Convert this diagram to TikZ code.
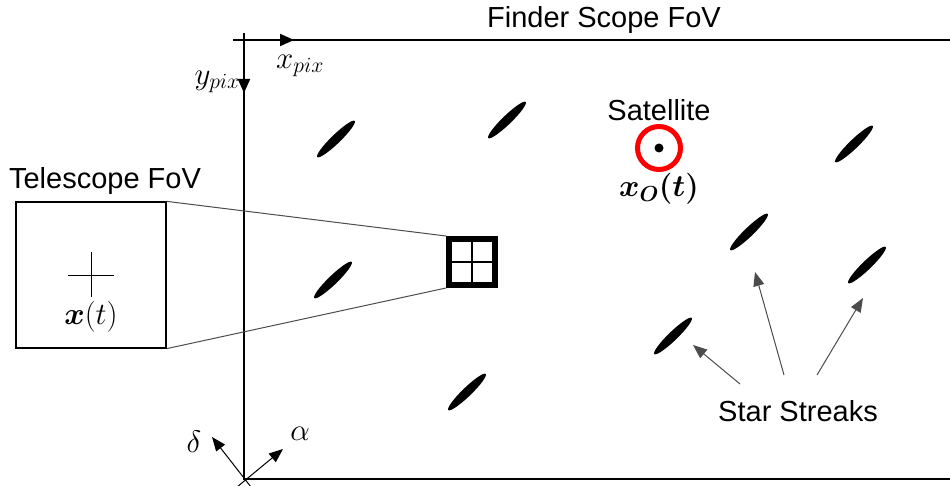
\documentclass[tikz,border=0pt]{standalone}
\usepackage{fix-cm}
\usepackage{amsmath,amssymb}
\usepackage{fontspec}
\setmainfont{Liberation Sans}
\usetikzlibrary{positioning,shapes.geometric,arrows.meta}
\tikzset{
frame/.style={line width=2pt},
fovbox/.style={draw,line width=1.3pt,minimum width=150pt,minimum height=146pt,inner sep=0pt},
zoombox/.style={draw,line width=6pt,minimum size=46pt,inner sep=0pt},
streak/.style={ellipse,fill=black,minimum width=52pt,minimum height=9pt,inner sep=0pt,rotate=44},
satring/.style={circle,draw=red,line width=5pt,minimum size=43pt,inner sep=0pt},
satdot/.style={circle,fill=black,minimum size=9pt,inner sep=0pt},
hair/.style={line width=0.8pt},
thinline/.style={black!70,line width=1pt},
pointer/.style={-{Triangle[length=14pt,width=11pt]},black!70,line width=1pt},
axisarrow/.style={-{Triangle[length=14pt,width=12pt]},line width=2pt},
skyarrow/.style={-{Triangle[length=14pt,width=11pt]},line width=1pt},
txt/.style={font=\fontsize{29}{34}\selectfont,inner sep=1pt},
mathtxt/.style={font=\fontsize{31}{36}\selectfont,inner sep=1pt}
}
\begin{document}
\begin{tikzpicture}[x=1pt,y=-1pt]
\useasboundingbox (0,0) rectangle (950,486);
% finder scope frame
\coordinate (org) at (244,479);
\draw[frame] (233,40) -- (950,40);
\draw[frame] (244,33) -- (org) -- (950,479);
\draw[axisarrow] (233,40) -- (294,40);
\draw[axisarrow] (244,33) -- (244,93);
\node[txt] (title) at (604,20) {Finder Scope FoV};
\node[mathtxt] (xpix) at (300,66) {$x_{pix}$};
\node[mathtxt,anchor=east] (ypix) at (241,82) {$y_{pix}$};
% sky directions
\coordinate (d0) at (251,487);
\coordinate (dtip) at (212,437);
\coordinate (a0) at (237,487);
\coordinate (atip) at (283,449);
\draw[skyarrow] (d0) -- (dtip);
\draw[skyarrow] (a0) -- (atip);
\node[mathtxt] (delta) at (194,442) {$\delta$};
\node[mathtxt] (alpha) at (300,434) {$\alpha$};
% telescope fov
\node[fovbox] (tele) at (91,275) {};
\node[txt] (telelab) at (105,181) {Telescope FoV};
\draw[hair] ([xshift=-23pt]tele.center) -- ([xshift=23pt]tele.center);
\draw[hair] ([yshift=23pt]tele.center) -- ([yshift=-22pt]tele.center);
\node[mathtxt,below=25pt of tele.center] (xt) {$\boldsymbol{x}(t)$};
\node[zoombox] (zoom) at (472,262) {};
\draw[line width=1.5pt] (zoom.west) -- (zoom.east);
\draw[line width=1.5pt] (zoom.north) -- (zoom.south);
\draw[thinline] (tele.north east) -- (zoom.north west);
\draw[thinline] (tele.south east) -- (zoom.south west);
% satellite
\node[satring] (sat) at (659,148) {};
\node[satdot] (satc) at (sat.center) {};
\node[txt,above=2pt of sat] (satlab) {Satellite};
\node[mathtxt,below=0pt of sat] (xo) {$\boldsymbol{x_O(t)}$};
% star streaks
\foreach \p [count=\i] in {(336,139),(507,120),(333,280),(467,392),(749,232),(867,265),(673,336),(854,144)}
  \node[streak] (s\i) at \p {};
\node[txt] (streaks) at (798,411) {Star Streaks};
\coordinate (ta) at (740,384);
\coordinate (tb) at (784,375);
\coordinate (tc) at (817,375);
\coordinate (ha) at (693,345);
\coordinate (hb) at (755,272);
\coordinate (hc) at (863,298);
\draw[pointer] (ta) -- (ha);
\draw[pointer] (tb) -- (hb);
\draw[pointer] (tc) -- (hc);
\end{tikzpicture}
\end{document}
